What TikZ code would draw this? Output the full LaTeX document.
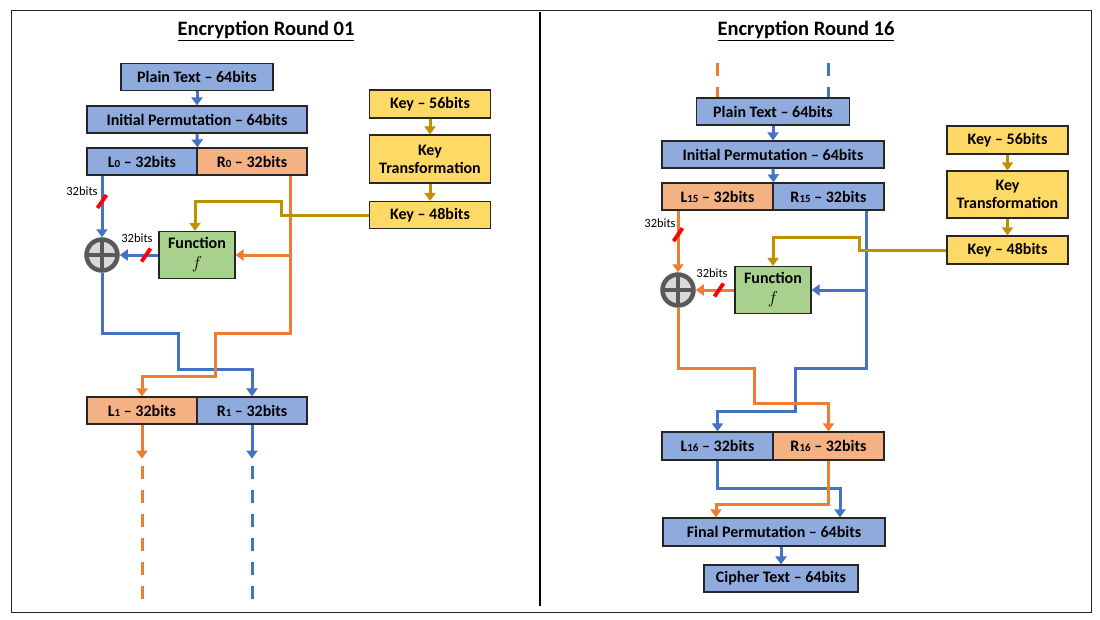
\documentclass[tikz,border=0pt]{standalone}
\usepackage{fontspec}
\setmainfont{Carlito}
\usetikzlibrary{arrows.meta, calc}
\definecolor{desblue}{HTML}{4472C4}
\definecolor{desbluefill}{HTML}{8FAADC}
\definecolor{desorange}{HTML}{ED7D31}
\definecolor{desorangefill}{HTML}{F4B183}
\definecolor{desgold}{HTML}{BF9000}
\definecolor{desgoldfill}{HTML}{FFD966}
\definecolor{desgreenfill}{HTML}{A9D18E}
\definecolor{desgray}{HTML}{595959}
\definecolor{deslight}{HTML}{D9D9D9}
\definecolor{desborder}{HTML}{262626}
\newcommand{\lsub}[1]{{\fontsize{11}{11}\selectfont #1}}
\newcommand{\fnf}{{\fontsize{18}{18}\selectfont$f$}}

\begin{document}
\begin{tikzpicture}[x=1pt, y=-1pt,
      box/.style={
        rectangle, draw=desborder, line width=1.2pt, inner sep=0pt,
        font=\bfseries\fontsize{16}{18}\selectfont, align=center
      },
      bbox/.style={box, fill=desbluefill},
      obox/.style={box, fill=desorangefill},
      kbox/.style={box, fill=desgoldfill, minimum width=121pt},
      fbox/.style={box, fill=desgreenfill, minimum width=76pt, minimum height=47pt},
      half/.style={minimum width=110pt, minimum height=27pt},
      xorgate/.style={
        circle, draw=desgray, line width=4.5pt, fill=deslight, minimum size=31pt,
        path picture={
          \draw[desgray, line width=4pt] (path picture bounding box.north) -- (path picture bounding box.south);
          \draw[desgray, line width=4pt] (path picture bounding box.west) -- (path picture bounding box.east);
        }
      },
      barrow/.style={-{Triangle[width=11pt,length=8pt]}, line width=3pt, desblue},
      oarrow/.style={-{Triangle[width=11pt,length=8pt]}, line width=3pt, desorange},
      garrow/.style={-{Triangle[width=11pt,length=8pt]}, line width=3pt, desgold},
      bdash/.style={line width=3pt, desblue, dash pattern=on 13pt off 11pt},
      odash/.style={line width=3pt, desorange, dash pattern=on 13pt off 11pt},
      slash/.style={draw=red, line width=3.8pt},
      bitlabel/.style={font=\fontsize{12.5}{14}\selectfont},
      title/.style={font=\bfseries\fontsize{20.5}{24}\selectfont}
    ]
      \useasboundingbox (0,0) rectangle (1100,619);
      \draw[desborder, line width=0.8pt] (11,10) rectangle (1091,612);
      \coordinate (divtop) at (540,12);
      \coordinate (divbot) at (540,606);
      \draw[black, line width=1.4pt] (divtop) -- (divbot);

      % round 01
      \node[title] (title1) at (266,31) {\underline{Encryption Round 01}};
      \node[bbox, minimum width=152pt, minimum height=27pt] (pt1) at (197,77) {Plain Text -- 64bits};
      \node[bbox, minimum width=220pt, minimum height=27pt] (ip1) at (197,119.5) {Initial Permutation -- 64bits};
      \node[bbox, half] (l0) at (142,161.5) {L\lsub{0} -- 32bits};
      \node[obox, half] (r0) at (252,161.5) {R\lsub{0} -- 32bits};
      \node[kbox, minimum height=28pt] (k56a) at (430,104) {Key -- 56bits};
      \node[kbox, minimum height=48pt] (ktra) at (430,159) {Key\\Transformation};
      \node[kbox, minimum height=27pt] (k48a) at (430,215) {Key -- 48bits};
      \node[xorgate] (xor1) at (102,255) {};
      \node[fbox] (fn1) at (197,255) {Function\\[2pt]\fnf};
      \node[obox, half] (l1) at (142,410.5) {L\lsub{1} -- 32bits};
      \node[bbox, half] (r1) at (252,410.5) {R\lsub{1} -- 32bits};
      \coordinate (rtap1) at ([xshift=38pt]r0.south);
      \coordinate (end1l) at (142,600);
      \coordinate (end1r) at (252,600);

      \draw[barrow] (pt1) -- (ip1);
      \draw[barrow] (ip1.south) -- (l0.north east);
      \draw[garrow] (k56a) -- (ktra);
      \draw[garrow] (ktra) -- (k48a);
      \draw[barrow] (l0.south -| xor1) -- coordinate[pos=0.42] (s1) (xor1);
      \draw[barrow] (fn1.west) -- coordinate[pos=0.32] (s2) (xor1);
      \draw[barrow] (xor1.south) |- (178,333) -- (178,369) -| (r1.north);
      \draw[oarrow] (rtap1) -- ++(0,158) -- ++(-75,0) -- ++(0,43) -| (l1.north);
      \draw[oarrow] (rtap1 |- fn1.east) -- (fn1.east);
      \draw[garrow] (k48a.west) -- ++(-87,0) -- ++(0,-14) -| ([xshift=-2pt]fn1.north);
      \draw[slash] ($(s1)+(-4.5,6.5)$) -- ($(s1)+(4.5,-6.5)$);
      \draw[slash] ($(s2)+(-4.5,6.5)$) -- ($(s2)+(4.5,-6.5)$);
      \node[bitlabel] (bits1a) at (82,191) {32bits};
      \node[bitlabel] (bits1b) at (137,238) {32bits};
      \draw[oarrow] (l1.south) -- ++(0,34);
      \draw[odash] ([yshift=-41pt]l1.south) -- (end1l);
      \draw[barrow] (r1.south) -- ++(0,34);
      \draw[bdash] ([yshift=-41pt]r1.south) -- (end1r);

      % round 16
      \node[title] (title16) at (806,31) {\underline{Encryption Round 16}};
      \node[bbox, minimum width=153pt, minimum height=27pt] (pt16) at (773,111.5) {Plain Text -- 64bits};
      \node[bbox, minimum width=222pt, minimum height=27pt] (ip16) at (773,154.5) {Initial Permutation -- 64bits};
      \node[obox, half, minimum width=111pt] (l15) at (717.5,196.5) {L\lsub{15} -- 32bits};
      \node[bbox, half, minimum width=111pt] (r15) at (828.5,196.5) {R\lsub{15} -- 32bits};
      \node[kbox, minimum height=28pt] (k56b) at (1007.5,140) {Key -- 56bits};
      \node[kbox, minimum height=47pt] (ktrb) at (1007.5,194.5) {Key\\Transformation};
      \node[kbox, minimum height=28pt] (k48b) at (1007.5,250) {Key -- 48bits};
      \node[xorgate] (xor16) at (678,290) {};
      \node[fbox] (fn16) at (773,290) {Function\\[2pt]\fnf};
      \node[bbox, half, minimum width=111pt, minimum height=28pt] (l16) at (717.5,446) {L\lsub{16} -- 32bits};
      \node[obox, half, minimum width=111pt, minimum height=28pt] (r16) at (828.5,446) {R\lsub{16} -- 32bits};
      \node[bbox, minimum width=222pt, minimum height=28pt] (fp) at (774,532) {Final Permutation -- 64bits};
      \node[bbox, minimum width=154pt, minimum height=27pt] (ct) at (781,578.5) {Cipher Text -- 64bits};
      \coordinate (rtap16) at ([xshift=37.5pt]r15.south);
      \coordinate (top16l) at (717,63);
      \coordinate (top16r) at (828,63);

      \draw[odash] (top16l) -- (top16l |- pt16.north);
      \draw[bdash] (top16r) -- (top16r |- pt16.north);
      \draw[barrow] (pt16) -- (ip16);
      \draw[barrow] (ip16.south) -- (l15.north east);
      \draw[garrow] (k56b) -- (ktrb);
      \draw[garrow] (ktrb) -- (k48b);
      \draw[oarrow] (l15.south -| xor16) -- coordinate[pos=0.39] (s3) (xor16);
      \draw[oarrow] (fn16.west) -- coordinate[pos=0.4] (s4) (xor16);
      \draw[barrow] (rtap16) -- ++(0,158) -- ++(-71,0) -- ++(0,43) -| (l16.north);
      \draw[barrow] (rtap16 |- fn16.east) -- (fn16.east);
      \draw[oarrow] (xor16.south) |- (754,368) -- (754,403) -| (r16.north);
      \draw[garrow] (k48b.west) -- ++(-87,0) -- ++(0,-13) -| (fn16.north);
      \draw[slash] ($(s3)+(-4.5,6.5)$) -- ($(s3)+(4.5,-6.5)$);
      \draw[slash] ($(s4)+(-4.5,6.5)$) -- ($(s4)+(4.5,-6.5)$);
      \node[bitlabel] (bits16a) at (660,223) {32bits};
      \node[bitlabel] (bits16b) at (712,273) {32bits};
      \draw[barrow] (l16.south) -- ++(0,28) -| ([xshift=66pt]fp.north);
      \draw[oarrow] (r16.south) -- ++(0,44) -| ([xshift=-58pt]fp.north);
      \draw[barrow] (fp.south -| ct.north) -- (ct.north);
\end{tikzpicture}
\end{document}
